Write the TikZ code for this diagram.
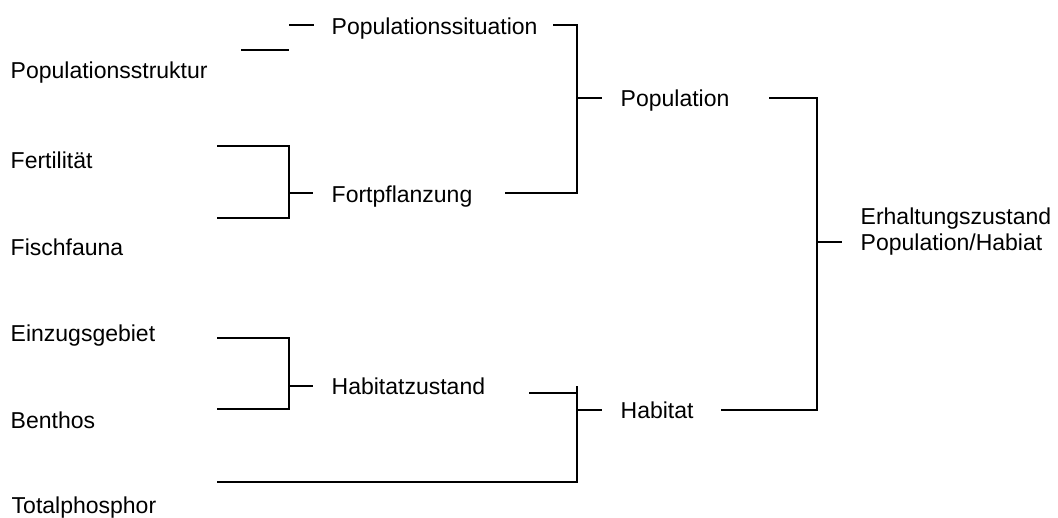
\documentclass[tikz,border=0pt]{standalone}
\usepackage{fontspec}
\setmainfont{Liberation Sans}
\begin{document}
\begin{tikzpicture}[x=1pt,y=-1pt,
  lbl/.style={anchor=base west,inner sep=0pt,font=\fontsize{23}{26}\selectfont,align=left},
  conn/.style={line width=1.2pt,line cap=butt,line join=miter}]
\useasboundingbox (0,0) rectangle (1058,517);
% leaf texts
\node[lbl] (pstruk) at (10.5,78) {Populationsstruktur};
\node[lbl] (fert)   at (10.5,168) {Fertilität};
\node[lbl] (fisch)  at (10.5,255) {Fischfauna};
\node[lbl] (einz)   at (10.5,341) {Einzugsgebiet};
\node[lbl] (benth)  at (10.5,428) {Benthos};
\node[lbl] (tphos)  at (11.5,513) {Totalphosphor};
% middle level
\node[lbl] (psit)   at (331.5,34) {Populationssituation};
\node[lbl] (fortp)  at (331.5,202) {Fortpflanzung};
\node[lbl] (habz)   at (331.5,394) {Habitatzustand};
% upper level
\node[lbl] (pop)    at (620.5,106) {Population};
\node[lbl] (hab)    at (620.5,418) {Habitat};
% root
\node[lbl] (erh)    at (860.5,250) {Erhaltungszustand\\Population/Habiat};
% coordinates for connector ends
\coordinate (a1) at (289,25);   \coordinate (a2) at (314,25);
\coordinate (b1) at (241,50);   \coordinate (b2) at (289,50);
\coordinate (f1) at (217,146);  \coordinate (f2) at (289,146);
\coordinate (f3) at (289,218);  \coordinate (f4) at (217,218);
\coordinate (f5) at (289,193);  \coordinate (f6) at (313,193);
\coordinate (e1) at (217,338);  \coordinate (e2) at (289,338);
\coordinate (e3) at (289,409);  \coordinate (e4) at (217,409);
\coordinate (e5) at (289,386);  \coordinate (e6) at (313,386);
\coordinate (p1) at (553,25);   \coordinate (p2) at (577,25);
\coordinate (p3) at (577,193);  \coordinate (p4) at (505,193);
\coordinate (p5) at (577,98);   \coordinate (p6) at (602,98);
\coordinate (h1) at (529,393);  \coordinate (h2) at (577,393);
\coordinate (h3) at (577,386);  \coordinate (h4) at (577,482);
\coordinate (h5) at (217,482);
\coordinate (h6) at (577,410);  \coordinate (h7) at (602,410);
\coordinate (r1) at (769,98);   \coordinate (r2) at (817,98);
\coordinate (r3) at (817,410);  \coordinate (r4) at (721,410);
\coordinate (r5) at (817,242);  \coordinate (r6) at (842,242);
% connectors
\draw[conn] (a1) -- (a2);
\draw[conn] (b1) -- (b2);
\draw[conn] (f1) -- (f2) -- (f3) -- (f4);
\draw[conn] (f5) -- (f6);
\draw[conn] (e1) -- (e2) -- (e3) -- (e4);
\draw[conn] (e5) -- (e6);
\draw[conn] (p1) -- (p2) -- (p3) -- (p4);
\draw[conn] (p5) -- (p6);
\draw[conn] (h1) -- (h2);
\draw[conn] (h3) -- (h4) -- (h5);
\draw[conn] (h6) -- (h7);
\draw[conn] (r1) -- (r2) -- (r3) -- (r4);
\draw[conn] (r5) -- (r6);
\end{tikzpicture}
\end{document}
